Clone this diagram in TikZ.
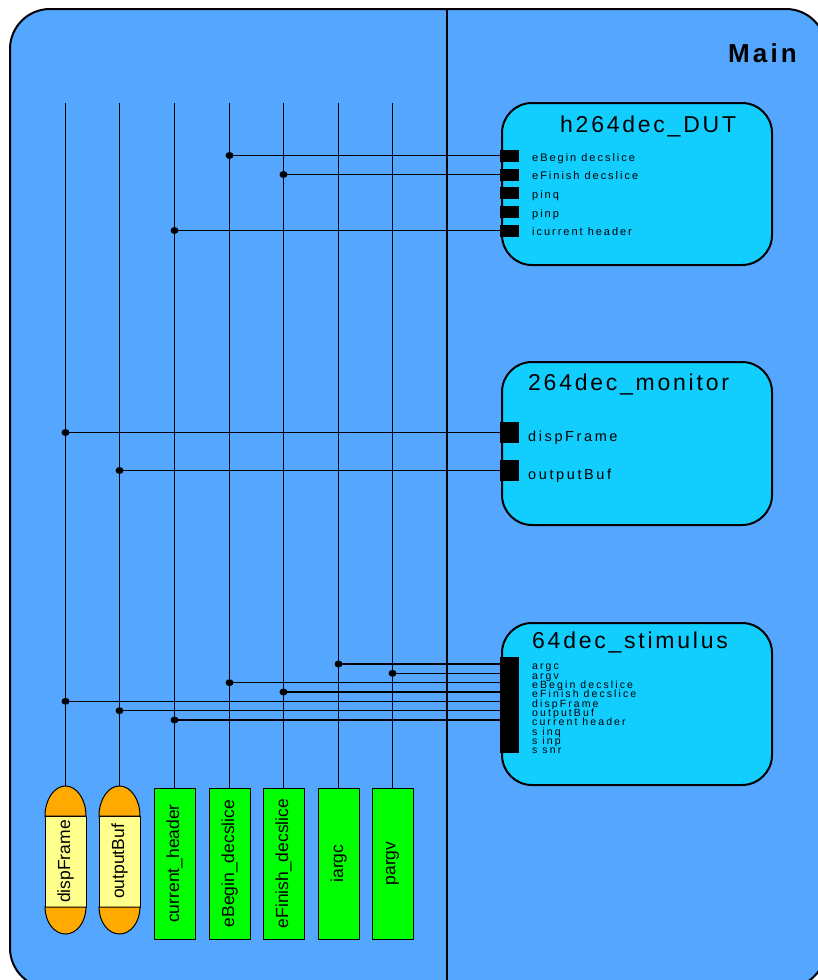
\documentclass[tikz,border=0pt]{standalone}
\usepackage{fontspec}
\setmainfont{Liberation Sans}
\newfontfamily\titlefont[LetterSpace=12]{Liberation Sans}
\newfontfamily\portfont[LetterSpace=18]{Liberation Sans}
\newfontfamily\pinfont[LetterSpace=20]{Liberation Sans}
\usetikzlibrary{calc,shapes.geometric}

\definecolor{mainblue}{RGB}{85,166,255}
\definecolor{modcyan}{RGB}{17,206,255}
\definecolor{varorange}{RGB}{255,170,0}
\definecolor{varyellow}{RGB}{255,255,140}
\definecolor{siggreen}{RGB}{0,255,0}

\tikzset{
  mainbox/.style={draw, line width=2pt, fill=mainblue, rounded corners=40pt, inner sep=0pt, outer sep=0pt},
  module/.style={draw, line width=2pt, fill=modcyan, rounded corners=30pt, inner sep=0pt, outer sep=0pt,
                 minimum width=270pt, minimum height=162pt},
  modtitle/.style={anchor=base west, inner sep=0pt, font=\titlefont\fontsize{23}{23}\selectfont},
  port/.style={fill=black, inner sep=0pt, outer sep=0pt, minimum width=19pt, minimum height=12pt},
  bigport/.style={port, minimum height=21pt},
  smalllabel/.style={anchor=base west, inner sep=0pt, font=\portfont\fontsize{11}{11}\selectfont},
  biglabel/.style={anchor=base west, inner sep=0pt, font=\portfont\fontsize{14.5}{14.5}\selectfont},
  tinylabel/.style={anchor=base west, inner sep=0pt, font=\pinfont\fontsize{10.5}{10.5}\selectfont},
  wire/.style={line width=1.6pt},
  junction/.style={ellipse, fill=black, inner sep=0pt, minimum width=8pt, minimum height=7pt},
  signal/.style={draw, line width=1pt, fill=siggreen, inner sep=0pt, outer sep=0pt,
                 minimum width=41pt, minimum height=151pt, font=\fontsize{17.5}{17.5}\selectfont},
  varbody/.style={draw, line width=1pt, fill=varyellow, inner sep=0pt, outer sep=0pt,
                  minimum width=41pt, minimum height=91pt, font=\fontsize{17.5}{17.5}\selectfont},
  varcap/.style={draw, line width=1pt, fill=varorange},
}

\begin{document}
\begin{tikzpicture}[x=1pt, y=-1pt]
\useasboundingbox (0,0) rectangle (817,980);
\fill[white] (0,0) rectangle (817,980);

% enclosing block and its partition
\node[mainbox, minimum width=816pt, minimum height=979pt] (main) at (418,498.5) {};
\draw[line width=2pt] (447,9) -- (447,988);
\node[anchor=base east, inner sep=0pt, font=\titlefont\bfseries\fontsize{26}{26}\selectfont] (mainname) at (797,62) {Main};

% bus tops
\coordinate (bDisp)   at (65.5,103);
\coordinate (bOut)    at (119.5,103);
\coordinate (bHeader) at (174.5,103);
\coordinate (bBegin)  at (229.5,103);
\coordinate (bFinish) at (283.5,103);
\coordinate (bArgc)   at (338.5,103);
\coordinate (bArgv)   at (392.5,103);

% signal terminators
\node[varbody] (tDisp) at (65.5,861.5) {\rotatebox{90}{dispFrame}};
\draw[varcap] (tDisp.north west) arc[start angle=180, end angle=360, x radius=20.5, y radius=30] -- cycle;
\draw[varcap] (tDisp.south west) arc[start angle=180, end angle=0, x radius=20.5, y radius=27] -- cycle;
\node[varbody] (tOut) at (119.5,861.5) {\rotatebox{90}{outputBuf}};
\draw[varcap] (tOut.north west) arc[start angle=180, end angle=360, x radius=20.5, y radius=30] -- cycle;
\draw[varcap] (tOut.south west) arc[start angle=180, end angle=0, x radius=20.5, y radius=27] -- cycle;
\node[signal] (tHeader) at (174.5,863.5) {\rotatebox{90}{current\_header}};
\node[signal] (tBegin)  at (229.5,863.5) {\rotatebox{90}{eBegin\_decslice}};
\node[signal] (tFinish) at (283.5,863.5) {\rotatebox{90}{eFinish\_decslice}};
\node[signal] (tArgc)   at (338.5,863.5) {\rotatebox{90}{iargc}};
\node[signal] (tArgv)   at (392.5,863.5) {\rotatebox{90}{pargv}};

% vertical buses
\draw[wire] (bDisp) -- ($(tDisp.north)+(0,-30)$);
\draw[wire] (bOut) -- ($(tOut.north)+(0,-30)$);
\draw[wire] (bHeader) -- (tHeader.north);
\draw[wire] (bBegin) -- (tBegin.north);
\draw[wire] (bFinish) -- (tFinish.north);
\draw[wire] (bArgc) -- (tArgc.north);
\draw[wire] (bArgv) -- (tArgv.north);

% module h264dec_DUT
\node[module] (dut) at (637,184) {};
\node[modtitle] (dutname) at (560,132) {h264dec\_DUT};
\node[port] (dp1) at (509.5,155.5) {};
\node[port] (dp2) at (509.5,174.5) {};
\node[port] (dp3) at (509.5,193) {};
\node[port] (dp4) at (509.5,211.7) {};
\node[port] (dp5) at (509.5,230.5) {};
\node[smalllabel] (dl1) at (532,161) {eBegin decslice};
\node[smalllabel] (dl2) at (532,179.7) {eFinish decslice};
\node[smalllabel] (dl3) at (532,198.4) {pinq};
\node[smalllabel] (dl4) at (532,217.1) {pinp};
\node[smalllabel] (dl5) at (532,235.9) {icurrent header};

% module 264dec_monitor
\node[module, minimum height=163pt] (mon) at (637,443.5) {};
\node[modtitle] (monname) at (528,390) {264dec\_monitor};
\node[bigport] (mp1) at (509.5,432.5) {};
\node[bigport] (mp2) at (509.5,470.5) {};
\node[biglabel] (ml1) at (528,441.5) {dispFrame};
\node[biglabel] (ml2) at (528,479.3) {outputBuf};

% module 64dec_stimulus
\node[module] (stim) at (637,704) {};
\node[modtitle] (stimname) at (532,648) {64dec\_stimulus};
\node[port, minimum height=96pt] (sbar) at (509.5,705) {};
\foreach \txt [count=\i from 0] in {argc, argv, eBegin decslice, eFinish decslice, dispFrame,
                                     outputBuf, current header, s inq, s inp, s snr}
  \node[tinylabel] (sl\i) at (532,{669.8+9.33*\i}) {\txt};
\foreach \i in {0,...,6}
  \coordinate (sp\i) at (sbar.west |- 0,{664+9.33*\i});

% junctions and branch wires
\foreach \bus/\target in {bBegin/dp1, bFinish/dp2, bHeader/dp5, bDisp/mp1, bOut/mp2}{
  \coordinate (j-\target) at (\bus |- \target.west);
  \draw[wire] (j-\target) -- (\target.west);
  \node[junction] at (j-\target) {};
}
\foreach \bus/\target in {bArgc/sp0, bArgv/sp1, bBegin/sp2, bFinish/sp3, bDisp/sp4, bOut/sp5, bHeader/sp6}{
  \coordinate (j-\target) at (\bus |- \target);
  \draw[wire] (j-\target) -- (\target);
  \node[junction] at (j-\target) {};
}
\end{tikzpicture}
\end{document}
